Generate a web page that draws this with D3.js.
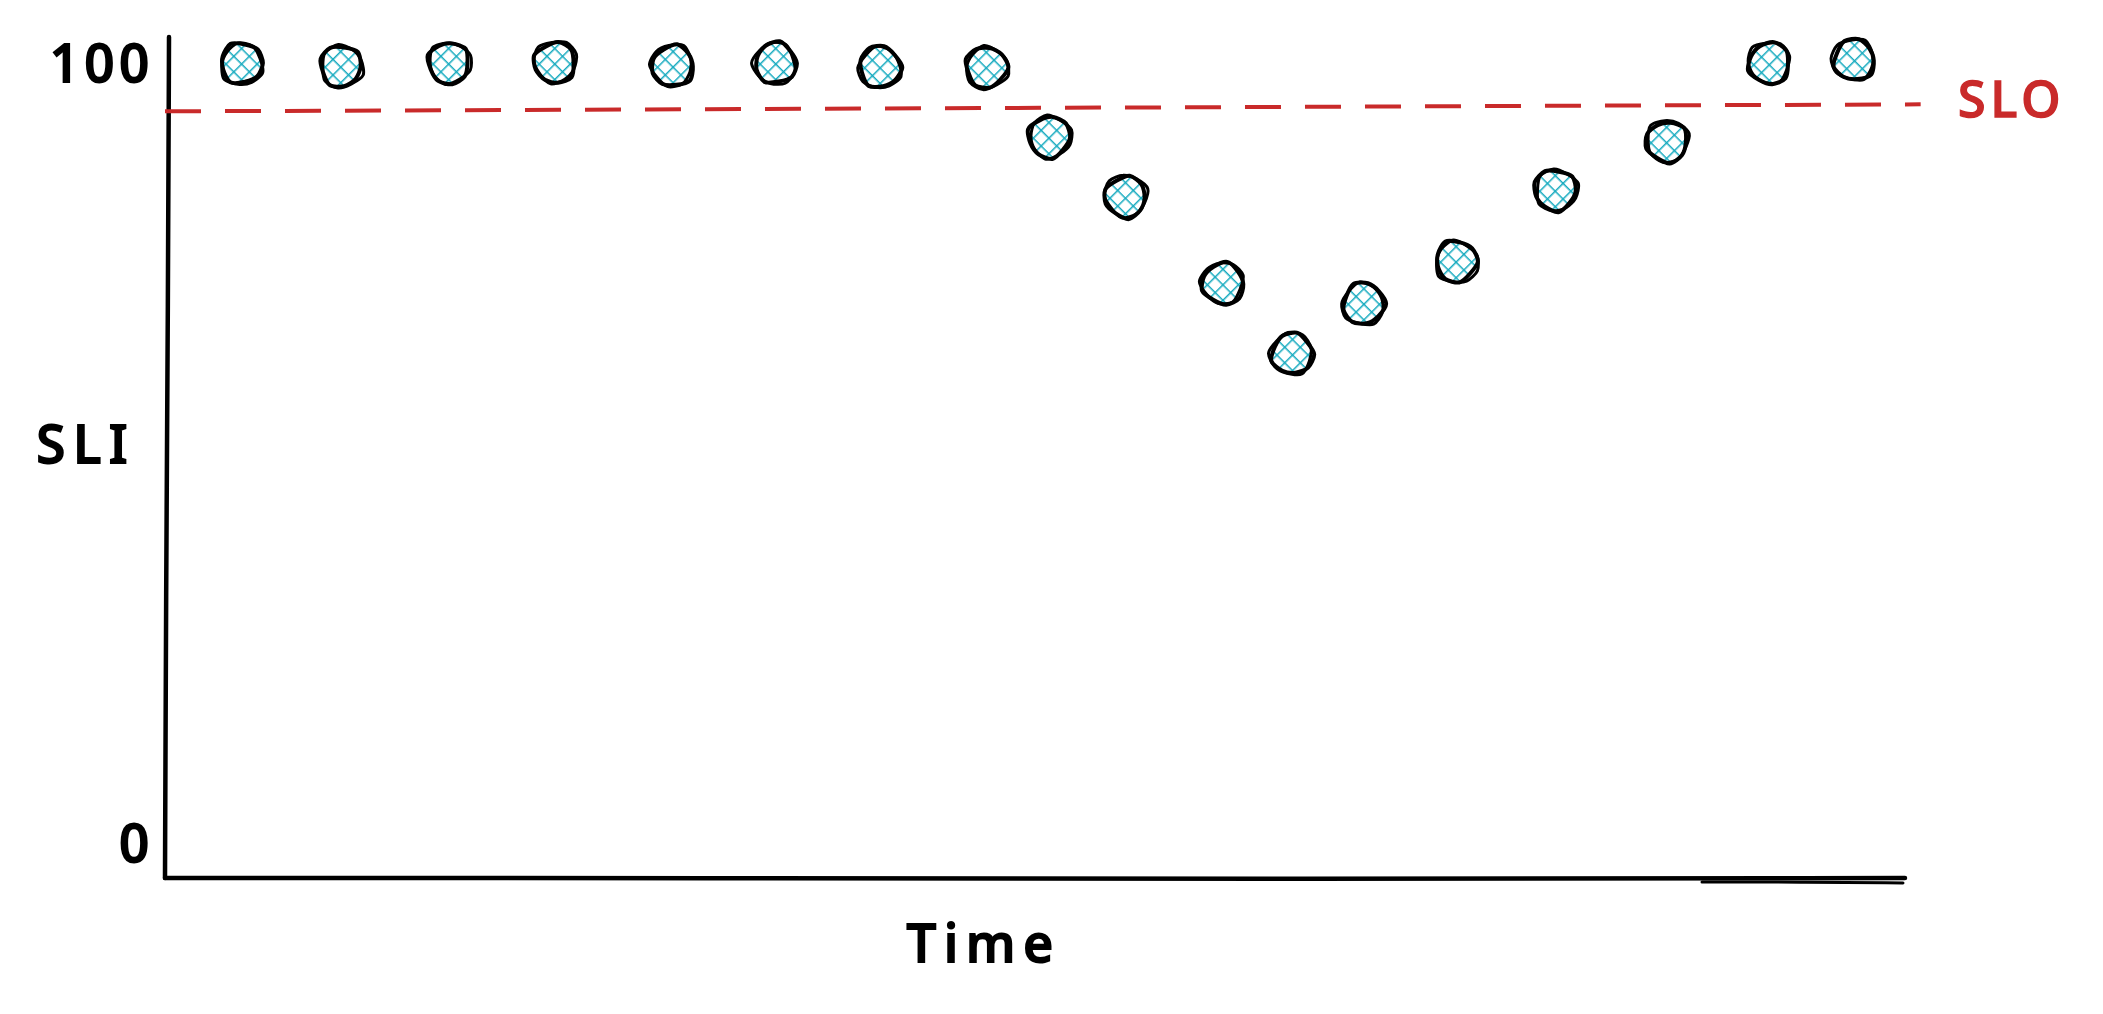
<!DOCTYPE html>
<html>
<head>
<meta charset="utf-8">
<script src="https://cdn.jsdelivr.net/npm/d3@7"></script>
<style>
  html, body { margin: 0; padding: 0; background: #fff; }
  svg { display: block; }
  .hand { font-family: 'Noto Sans', 'DejaVu Sans', sans-serif; font-weight: 500; }
</style>
</head>
<body>
<svg id="chart" width="2103" height="1014"></svg>
<script>
// readings (time in % of the window, SLI in %)
const times = [4.4, 10.1, 16.3, 22.4, 29.2, 35.1, 41.1, 47.2, 50.8, 55.2, 60.8, 64.8, 68.9, 74.2, 79.9, 86.3, 92.2, 97.1];
const sli = [100, 99.6, 100, 100, 99.6, 100, 99.5, 99.5, 90.5, 82.8, 71.7, 62.7, 69.2, 74.6, 83.7, 89.9, 99.9, 100.4];
const sloSpan = [0, 100.9];
const sloLevel = [93.8, 94.7];
const yTicks = [0, 100];

const svg = d3.select('#chart');
const W = 2103, H = 1014;

svg.append('rect').attr('width', W).attr('height', H).attr('fill', '#fff');

const x = d3.scaleLinear().domain([0, 100]).range([165, 1905]);
const y = d3.scaleLinear().domain([0, 100]).range([843, 63]);

// hachure fill, like the sketch tool does it
const defs = svg.append('defs');
const pat = defs.append('pattern')
    .attr('id', 'hatch')
    .attr('patternUnits', 'userSpaceOnUse')
    .attr('width', 11).attr('height', 11)
    .attr('patternTransform', 'rotate(45)');
pat.append('line').attr('x1', 0).attr('y1', 0).attr('x2', 0).attr('y2', 11)
    .attr('stroke', '#15aabf').attr('stroke-width', 3);
pat.append('line').attr('x1', 0).attr('y1', 0).attr('x2', 11).attr('y2', 0)
    .attr('stroke', '#15aabf').attr('stroke-width', 3);

const rough = d3.line().curve(d3.curveBasis);

// axes: plain strokes, a bit wobbly
const axisG = svg.append('g').attr('fill', 'none').attr('stroke', '#000')
    .attr('stroke-linecap', 'round');

axisG.append('path')
    .attr('stroke-width', 4.5)
    .attr('d', rough([[169, 37], [168, 300], [166, 600], [165, 878]]));

axisG.append('path')
    .attr('stroke-width', 4.5)
    .attr('d', rough([[165, 878], [700, 878], [1300, 879], [1905, 878]]));
axisG.append('path')
    .attr('stroke-width', 3)
    .attr('d', rough([[1702, 882], [1800, 882], [1903, 883]]));

// y axis tick labels via d3 axis (no domain line, no ticks)
const yAxis = svg.append('g')
    .attr('transform', 'translate(166,0)')
    .call(d3.axisLeft(y).tickValues(yTicks).tickSize(0).tickPadding(12).tickFormat(d3.format('d')));
yAxis.select('.domain').remove();
yAxis.selectAll('text')
    .attr('class', 'hand')
    .attr('font-size', 52)
    .attr('letter-spacing', 5)
    .attr('fill', '#000')
    .attr('stroke', '#000')
    .attr('stroke-width', 2)
    .attr('dy', '0.36em');

// SLO dashed line
svg.append('line')
    .attr('x1', x(sloSpan[0])).attr('y1', y(sloLevel[0]))
    .attr('x2', x(sloSpan[1])).attr('y2', y(sloLevel[1]))
    .attr('stroke', '#c92a2a')
    .attr('stroke-width', 4)
    .attr('stroke-dasharray', '36 24');

svg.append('text')
    .attr('class', 'hand')
    .attr('x', 1958).attr('y', 117)
    .attr('font-size', 50)
    .attr('letter-spacing', 5)
    .attr('fill', '#c92a2a')
    .attr('stroke', '#c92a2a')
    .attr('stroke-width', 1.5)
    .text('SLO');

// axis titles
svg.append('text')
    .attr('class', 'hand')
    .attr('x', 86).attr('y', 463)
    .attr('text-anchor', 'middle')
    .attr('font-size', 52)
    .attr('letter-spacing', 8)
    .attr('fill', '#000')
    .attr('stroke', '#000')
    .attr('stroke-width', 2)
    .text('SLI');

svg.append('text')
    .attr('class', 'hand')
    .attr('x', 984).attr('y', 962)
    .attr('text-anchor', 'middle')
    .attr('font-size', 52)
    .attr('letter-spacing', 8)
    .attr('fill', '#000')
    .attr('stroke', '#000')
    .attr('stroke-width', 2)
    .text('Time');

// sketched circle outline around (0,0)
function sketchCircle(r, seed) {
    const pts = [];
    const n = 9;
    for (let k = 0; k < n; k++) {
        const a = (k / n) * Math.PI * 2 + seed * 0.7;
        const rr = r + 1.8 * Math.sin(seed * 3.1 + k * 2.3);
        pts.push([rr * Math.cos(a), rr * Math.sin(a)]);
    }
    return d3.line().curve(d3.curveCardinalClosed.tension(0.2))(pts);
}

const pts = times.map((t, i) => ({ t: t, v: sli[i], i: i }));

const dots = svg.append('g').selectAll('g')
    .data(pts)
    .enter()
    .append('g')
    .attr('transform', (d) => `translate(${x(d.t)},${y(d.v)})`);

dots.append('circle')
    .attr('r', 20)
    .attr('fill', 'url(#hatch)');

dots.append('path')
    .attr('d', (d) => sketchCircle(20.5, d.i + 1))
    .attr('fill', 'none')
    .attr('stroke', '#000')
    .attr('stroke-width', 4);

dots.append('path')
    .attr('d', (d) => sketchCircle(21, d.i + 5.5))
    .attr('transform', (d) => `translate(${Math.sin(d.i) * 1.5},${Math.cos(d.i) * 1.5})`)
    .attr('fill', 'none')
    .attr('stroke', '#000')
    .attr('stroke-width', 3);
</script>
</body>
</html>
